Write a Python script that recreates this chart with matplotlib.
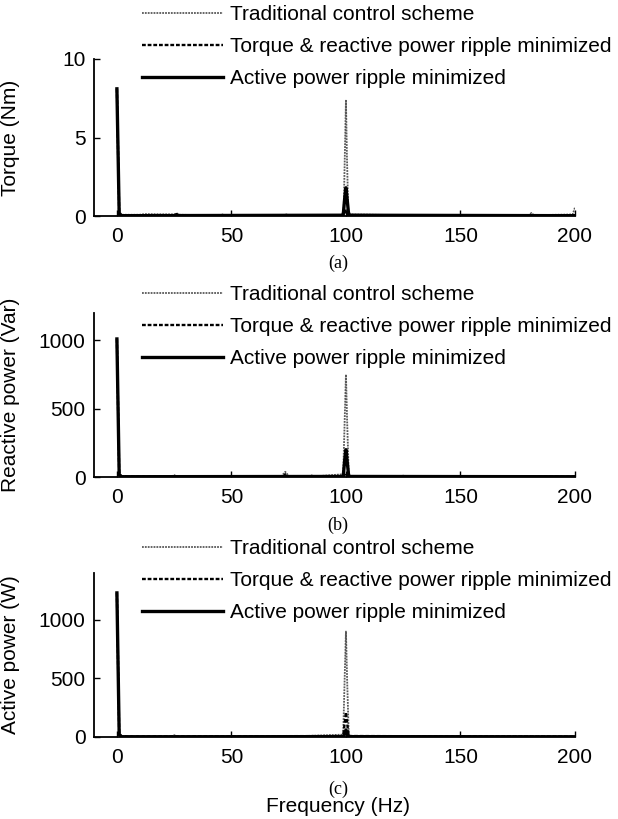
import matplotlib
matplotlib.use("Agg")
import matplotlib.pyplot as plt

plt.rcParams['font.family'] = ['Liberation Sans', 'DejaVu Sans']

# spectrum points (frequency in Hz, amplitude) for each panel and scheme
labels = ['Traditional control scheme',
          'Torque & reactive power ripple minimized',
          'Active power ripple minimized']

# (a) torque
trq_trad_f = [0, 1, 2, 10, 12, 25, 26, 27, 45, 46, 47, 73, 74, 75, 98, 99, 99.6, 100, 100.4, 101, 102, 125, 180, 181, 182, 199, 200]
trq_trad_v = [8.1, 0.3, 0.08, 0.08, 0.12, 0.1, 0.18, 0.08, 0.04, 0.1, 0.04, 0.04, 0.1, 0.04, 0.05, 0.3, 4.5, 7.4, 4.0, 0.3, 0.1, 0.05, 0.05, 0.2, 0.05, 0.1, 0.55]
trq_tr_f = [0, 1, 2, 25, 26, 27, 98, 99, 100, 101, 102, 200]
trq_tr_v = [8.1, 0.2, 0.05, 0.05, 0.12, 0.05, 0.05, 0.1, 0.35, 0.1, 0.05, 0.05]
trq_ap_f = [0, 1, 2, 98.8, 99.5, 100, 100.5, 101.2, 200]
trq_ap_v = [8.1, 0.1, 0.02, 0.05, 1.2, 1.8, 1.1, 0.05, 0.02]

# (b) reactive power
var_trad_f = [0, 1, 2, 24, 25, 26, 72, 73.5, 75, 84, 85, 86, 98.8, 99.5, 100, 100.5, 101.2, 102, 124, 125, 126, 200]
var_trad_v = [1010, 30, 8, 5, 14, 5, 8, 38, 8, 4, 12, 4, 20, 450, 750, 420, 25, 8, 3, 10, 3, 3]
var_tr_f = [0, 1, 2, 73, 73.5, 74, 99, 100, 101, 102, 200]
var_tr_v = [1010, 20, 4, 4, 20, 4, 5, 30, 5, 2, 2]
var_ap_f = [0, 1, 2, 98.8, 99.5, 100, 100.5, 101.2, 200]
var_ap_v = [1010, 15, 2, 4, 130, 200, 120, 4, 2]

# (c) active power
pw_trad_f = [0, 1, 2, 24, 25, 26, 45, 46, 47, 73, 74, 75, 98.8, 99.5, 100, 100.5, 101.2, 102, 125, 126, 200]
pw_trad_v = [1230, 40, 8, 5, 16, 5, 4, 10, 4, 4, 10, 4, 20, 550, 900, 500, 25, 8, 3, 8, 3]
pw_tr_f = [0, 1, 2, 98.8, 99.5, 100, 100.5, 101.2, 200]
pw_tr_v = [1230, 25, 4, 8, 130, 210, 120, 8, 3]
pw_ap_f = [0, 1, 2, 99, 100, 101, 200]
pw_ap_v = [1230, 20, 2, 3, 60, 3, 2]

panels = [
    ('Torque (Nm)', (0, 10), [0, 5, 10], '(a)',
     [(trq_trad_f, trq_trad_v), (trq_tr_f, trq_tr_v), (trq_ap_f, trq_ap_v)]),
    ('Reactive power (Var)', (0, 1200), [0, 500, 1000], '(b)',
     [(var_trad_f, var_trad_v), (var_tr_f, var_tr_v), (var_ap_f, var_ap_v)]),
    ('Active power (W)', (0, 1400), [0, 500, 1000], '(c)',
     [(pw_trad_f, pw_trad_v), (pw_tr_f, pw_tr_v), (pw_ap_f, pw_ap_v)]),
]

styles = [dict(color='0.35', lw=1.3, ls=(0, (1, 0.6))),
          dict(color='black', lw=1.7, ls=(0, (1.6, 0.8))),
          dict(color='black', lw=2.4, ls='-')]

W, H = 618, 819
fs = 15
fig = plt.figure(figsize=(W / 100, H / 100), dpi=100)

# axes boxes in pixels: left, right, top, bottom
boxes = [(94, 575, 59, 216), (94, 575, 313, 477), (94, 575, 573, 737)]
legend_top = [5, 285, 539]
sub_y = [263, 525, 789]

for (ylab, ylim, yt, tag, series), (l, r, t, b), ly, sy in zip(panels, boxes, legend_top, sub_y):
    ax = fig.add_axes([l / W, 1 - b / H, (r - l) / W, (b - t) / H])
    lines = []
    for (f, v), st in zip(series, styles):
        ln, = ax.plot(f, v, **st)
        lines.append(ln)
    ax.set_xlim(-10, 200)
    ax.set_ylim(*ylim)
    ax.set_xticks([0, 50, 100, 150, 200])
    ax.set_yticks(yt)
    for s in ['top', 'right']:
        ax.spines[s].set_visible(False)
    for s in ['left', 'bottom']:
        ax.spines[s].set_linewidth(1.3)
    ax.tick_params(direction='in', length=4, width=1, labelsize=fs)
    ax.tick_params(axis='x', pad=8)
    ax.tick_params(axis='y', pad=6)
    ax.set_ylabel(ylab, fontsize=fs)
    ax.yaxis.set_label_coords((20 - l) / (r - l), 0.5)
    fig.legend(lines, labels, loc='upper left',
               bbox_to_anchor=(142 / W, 1 - ly / H),
               frameon=False, fontsize=fs, handlelength=3.9,
               handletextpad=0.34, labelspacing=0.62, borderpad=0,
               borderaxespad=0)
    fig.text(338 / W, 1 - sy / H, tag, ha='center', va='center',
             fontsize=13, family=['Liberation Serif', 'DejaVu Serif'])

fig.text(338 / W, 1 - 807 / H, 'Frequency (Hz)', ha='center', va='center',
         fontsize=fs)

fig.savefig('out.png', dpi=100)
